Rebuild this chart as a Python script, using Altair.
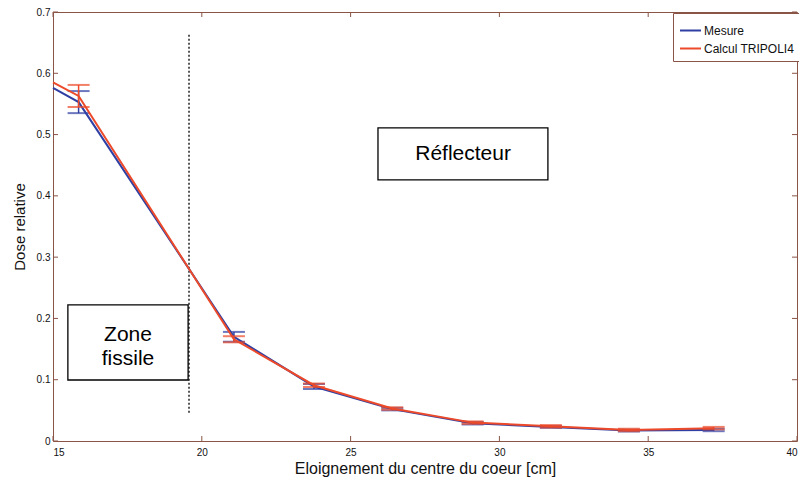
import altair as alt
import pandas as pd

# ---- data ----
distance = [15.0, 15.86, 21.08, 23.77, 26.4, 29.1, 31.73, 34.35, 37.2]
mesure = [0.576, 0.553, 0.170, 0.089, 0.052, 0.029, 0.023, 0.017, 0.018]
calcul = [0.585, 0.563, 0.166, 0.091, 0.053, 0.030, 0.024, 0.018, 0.021]
mesure_err = [0, 0.018, 0.008, 0.004, 0.002, 0.002, 0.0015, 0.0015, 0.002]
calcul_err = [0, 0.018, 0.005, 0.003, 0.002, 0.002, 0.002, 0.002, 0.002]
series = ["Mesure", "Calcul TRIPOLI4"]
colors = ["#2f3fa3", "#ec4a2a"]

x_ticks = [15, 20, 25, 30, 35, 40]
y_ticks = [0, 0.1, 0.2, 0.3, 0.4, 0.5, 0.6, 0.7]

# annotations (data units)
limit_x = [19.57]
limit_y = [0.046]
limit_y2 = [0.665]
box_labels = ["Réflecteur", "Zone fissile"]
box_x = [25.92, 15.5]
box_x2 = [31.63, 19.54]
box_y = [0.511, 0.222]
box_y2 = [0.426, 0.0995]
text_lines = ["Réflecteur", "Zone", "fissile"]
text_x = [28.78, 17.52, 17.52]
text_y = [0.468, 0.173, 0.133]

AXIS = "#8a5446"
FONT = "Liberation Sans"
W, H = 744, 429
TICK = 5

rows = []
for name, vals, errs in [(series[0], mesure, mesure_err), (series[1], calcul, calcul_err)]:
    for d, v, e in zip(distance, vals, errs):
        rows.append({"serie": name, "d": d, "v": v, "lo": v - e, "hi": v + e, "e": e})
df = pd.DataFrame(rows)

xs = alt.Scale(domain=[15, 40], nice=False, zero=False)
ys = alt.Scale(domain=[0, 0.7], nice=False, zero=False)
cs = alt.Scale(domain=series, range=colors)

x_axis = alt.Axis(values=x_ticks, title="Eloignement du centre du coeur [cm]", format="d")
y_axis = alt.Axis(values=y_ticks, title="Dose relative", format=".1~f")

base = alt.Chart(df)

lines = base.mark_line(strokeWidth=2).encode(
    x=alt.X("d:Q", scale=xs, axis=x_axis),
    y=alt.Y("v:Q", scale=ys, axis=y_axis),
    color=alt.Color("serie:N", scale=cs, sort=series,
                    legend=alt.Legend(title=None)),
    order=alt.Order("d:Q"),
)

err_layers = []
for name, col in zip(series, colors):
    sub = base.transform_filter(
        (alt.datum.serie == name) & (alt.datum.e > 0)
    )
    err_layers.append(
        sub.mark_rule(strokeWidth=1.5, color=col).encode(
            x="d:Q", y="lo:Q", y2="hi:Q"
        )
    )
    err_layers.append(
        sub.mark_tick(orient="horizontal", size=22, thickness=2, color=col).encode(
            x="d:Q", y="lo:Q"
        )
    )
    err_layers.append(
        sub.mark_tick(orient="horizontal", size=22, thickness=2, color=col).encode(
            x="d:Q", y="hi:Q"
        )
    )

# inward ticks on all four sides (MATLAB style)
xt_df = pd.DataFrame({"t": x_ticks})
yt_df = pd.DataFrame({"t": y_ticks})
tick_layers = [
    alt.Chart(xt_df).mark_rule(color=AXIS, strokeWidth=1).encode(
        x="t:Q", y=alt.value(H), y2=alt.value(H - TICK)),
    alt.Chart(xt_df).mark_rule(color=AXIS, strokeWidth=1).encode(
        x="t:Q", y=alt.value(0), y2=alt.value(TICK)),
    alt.Chart(yt_df).mark_rule(color=AXIS, strokeWidth=1).encode(
        y="t:Q", x=alt.value(0), x2=alt.value(TICK)),
    alt.Chart(yt_df).mark_rule(color=AXIS, strokeWidth=1).encode(
        y="t:Q", x=alt.value(W), x2=alt.value(W - TICK)),
]

limit_df = pd.DataFrame({"x": limit_x, "y": limit_y, "y2": limit_y2})
limit = alt.Chart(limit_df).mark_rule(
    color="black", strokeWidth=1.3, strokeDash=[2, 2]
).encode(x="x:Q", y="y:Q", y2="y2:Q")

box_df = pd.DataFrame({"label": box_labels, "x": box_x, "x2": box_x2,
                       "y": box_y, "y2": box_y2})
boxes = alt.Chart(box_df).mark_rect(
    fill="white", stroke="black", strokeWidth=1.3
).encode(x="x:Q", x2="x2:Q", y="y:Q", y2="y2:Q")

txt_df = pd.DataFrame({"t": text_lines, "x": text_x, "y": text_y})
texts = alt.Chart(txt_df).mark_text(
    font=FONT, fontSize=21, color="black", align="center", baseline="middle"
).encode(x="x:Q", y="y:Q", text="t:N")

chart = alt.layer(
    *tick_layers, limit, boxes, texts, *err_layers[:3], lines, *err_layers[3:]
).properties(
    width=W, height=H,
    autosize=alt.AutoSizeParams(type="none"),
    padding={"left": 45, "top": 4, "right": 2, "bottom": 40},
).configure_view(
    stroke=AXIS, strokeWidth=1
).configure_axis(
    domain=False, grid=False, ticks=False,
    labelFont=FONT, labelFontSize=10, labelColor="#111111",
    titleFont=FONT, titleFontWeight="normal", titleColor="#111111",
).configure_axisX(
    labelPadding=6, titleFontSize=16, titlePadding=3,
).configure_axisY(
    labelPadding=3, titleFontSize=15, titlePadding=9,
).configure_legend(
    orient="none", legendX=620, legendY=1,
    strokeColor=AXIS, fillColor="white", padding=6,
    symbolType="stroke", symbolSize=441, symbolStrokeWidth=2,
    labelFont=FONT, labelFontSize=12, labelColor="#111111",
    rowPadding=-3, labelOffset=2,
)

chart.save("out.html", embed_options={"renderer": "svg", "actions": False})
